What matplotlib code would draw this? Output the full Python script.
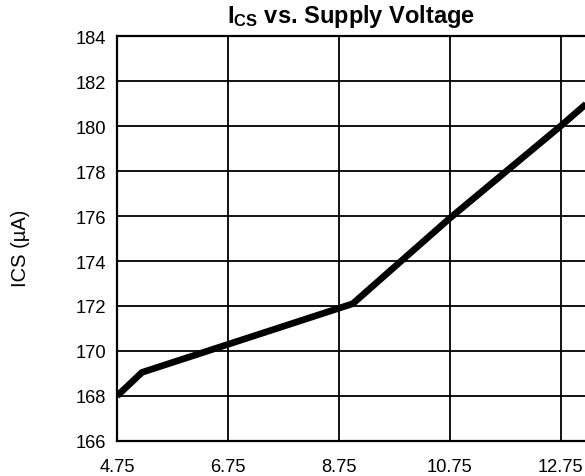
import matplotlib
matplotlib.use("Agg")
from matplotlib import pyplot as plt

# supply voltage (V) and current (uA)
voltage = [4.75, 5.2, 9.0, 10.75, 12.75, 13.5]
ics = [168.0, 169.05, 172.1, 175.9, 180.0, 181.6]

x_ticks = [4.75, 6.75, 8.75, 10.75, 12.75]
y_ticks = list(range(166, 185, 2))

plt.rcParams['font.family'] = ['Liberation Sans', 'DejaVu Sans']
plt.rcParams['mathtext.fontset'] = 'custom'
plt.rcParams['mathtext.rm'] = 'Liberation Sans'
plt.rcParams['mathtext.bf'] = 'Liberation Sans:bold'

fig = plt.figure(figsize=(5.85, 4.77), dpi=100)
# axes run past the right edge of the figure, like the cropped original
ax = fig.add_axes([0.2, 0.0734, 0.948, 0.849])

ax.plot(voltage, ics, color='black', linewidth=4.8, solid_capstyle='butt', zorder=3)

ax.set_xlim(4.75, 14.75)
ax.set_ylim(166, 184)
ax.set_xticks(x_ticks)
ax.set_yticks(y_ticks)
ax.tick_params(length=0, labelsize=13.2)
ax.tick_params(axis='x', pad=12)
ax.tick_params(axis='y', pad=8)
ax.grid(color='black', linewidth=1.3)
for s in ax.spines.values():
    s.set_linewidth(1.6)

fig.text(20 / 585, 1 - 248 / 477, 'ICS (\u00b5A)', rotation=90, fontsize=14.5,
         ha='center', va='center')
fig.text(351 / 585, 1 - 17 / 477, r'$\mathbf{I_{CS}}$ vs. Supply Voltage',
         fontsize=17, fontweight='bold', ha='center', va='center')

fig.savefig('out.png', dpi=100)
